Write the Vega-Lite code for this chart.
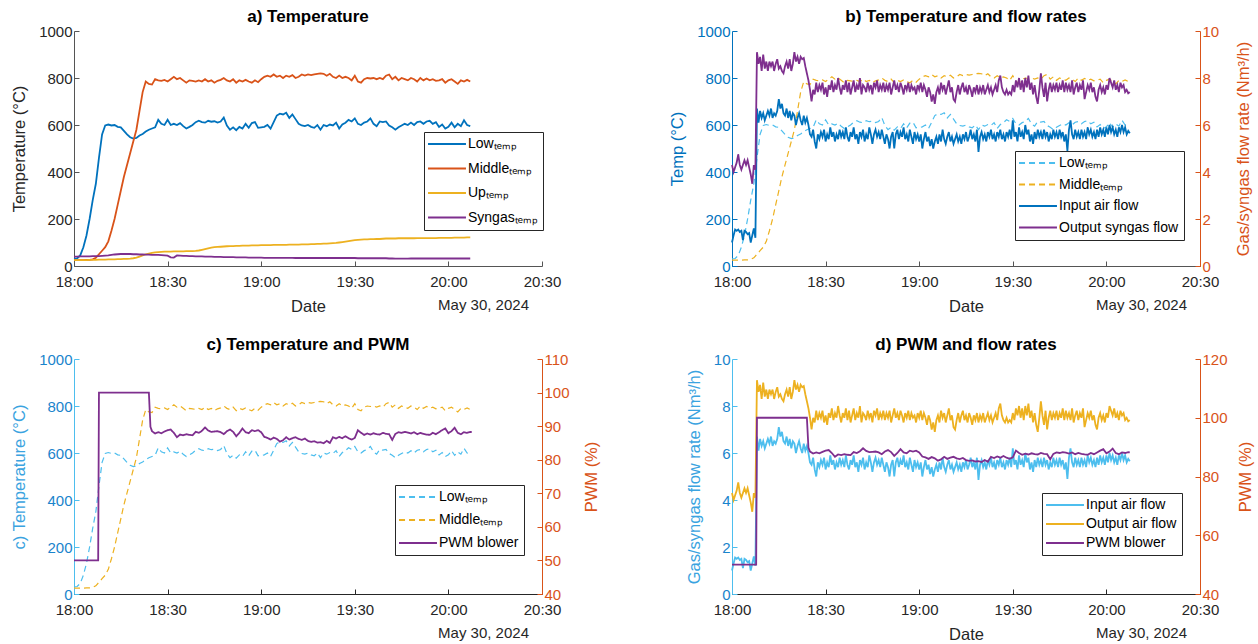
{
"$schema":"https://vega.github.io/schema/vega-lite/v6.json",
"background":"white",
"padding":{"left":11,"top":8,"right":5,"bottom":5},
"bounds":"flush",
"columns":2,
"spacing":{"row":93,"column":190},
"resolve":{"scale":{"color":"independent","strokeDash":"independent"}},
"config":{
 "font":"Liberation Sans",
 "view":{"stroke":null},
 "axis":{"labelFont":"Liberation Sans","titleFont":"Liberation Sans","labelFontSize":15,"titleFontSize":16.5,"titleFontWeight":"normal","labelColor":"#262626","titleColor":"#262626","domainColor":"#555555","tickColor":"#555555","tickSize":-5,"grid":false,"labelFlush":false,"labelOverlap":false},
 "axisX":{"labelPadding":13,"titlePadding":9},
 "axisY":{"labelPadding":7,"titlePadding":11},
 "title":{"font":"Liberation Sans","fontSize":17,"fontWeight":"bold","color":"#000000","offset":-2}
},
"datasets":{
"temps":[
{"t":"2024-05-30T18:00","low":30,"mid":25,"up":25,"syn":40},
{"t":"2024-05-30T18:01","low":32,"mid":25,"up":25,"syn":40},
{"t":"2024-05-30T18:02","low":45,"mid":25,"up":25,"syn":41},
{"t":"2024-05-30T18:03","low":80,"mid":25,"up":25,"syn":41},
{"t":"2024-05-30T18:04","low":130,"mid":26,"up":25,"syn":41},
{"t":"2024-05-30T18:05","low":200,"mid":26,"up":26,"syn":41},
{"t":"2024-05-30T18:06","low":280,"mid":28,"up":26,"syn":42},
{"t":"2024-05-30T18:07","low":350,"mid":35,"up":26,"syn":42},
{"t":"2024-05-30T18:08","low":460,"mid":50,"up":27,"syn":42},
{"t":"2024-05-30T18:09","low":560,"mid":65,"up":27,"syn":43},
{"t":"2024-05-30T18:10","low":598,"mid":80,"up":27,"syn":44},
{"t":"2024-05-30T18:11","low":602,"mid":105,"up":28,"syn":45},
{"t":"2024-05-30T18:12","low":598,"mid":150,"up":28,"syn":47},
{"t":"2024-05-30T18:13","low":600,"mid":200,"up":28,"syn":49},
{"t":"2024-05-30T18:14","low":592,"mid":260,"up":29,"syn":50},
{"t":"2024-05-30T18:15","low":590,"mid":320,"up":29,"syn":51},
{"t":"2024-05-30T18:16","low":575,"mid":380,"up":30,"syn":51},
{"t":"2024-05-30T18:17","low":560,"mid":430,"up":30,"syn":51},
{"t":"2024-05-30T18:18","low":548,"mid":480,"up":31,"syn":51},
{"t":"2024-05-30T18:19","low":542,"mid":530,"up":33,"syn":50},
{"t":"2024-05-30T18:20","low":545,"mid":580,"up":36,"syn":50},
{"t":"2024-05-30T18:21","low":555,"mid":660,"up":40,"syn":49},
{"t":"2024-05-30T18:22","low":562,"mid":740,"up":45,"syn":49},
{"t":"2024-05-30T18:23","low":572,"mid":785,"up":50,"syn":48},
{"t":"2024-05-30T18:24","low":580,"mid":775,"up":53,"syn":48},
{"t":"2024-05-30T18:25","low":585,"mid":772,"up":56,"syn":47},
{"t":"2024-05-30T18:26","low":590,"mid":795,"up":58,"syn":47},
{"t":"2024-05-30T18:27","low":622,"mid":790,"up":59,"syn":47},
{"t":"2024-05-30T18:28","low":605,"mid":788,"up":60,"syn":46},
{"t":"2024-05-30T18:29","low":600,"mid":792,"up":61,"syn":45},
{"t":"2024-05-30T18:30","low":622,"mid":785,"up":61,"syn":44},
{"t":"2024-05-30T18:31","low":600,"mid":795,"up":61,"syn":37},
{"t":"2024-05-30T18:32","low":605,"mid":805,"up":62,"syn":36},
{"t":"2024-05-30T18:33","low":600,"mid":795,"up":62,"syn":45},
{"t":"2024-05-30T18:34","low":608,"mid":800,"up":62,"syn":44},
{"t":"2024-05-30T18:35","low":595,"mid":790,"up":62,"syn":43},
{"t":"2024-05-30T18:36","low":585,"mid":780,"up":63,"syn":43},
{"t":"2024-05-30T18:37","low":592,"mid":790,"up":63,"syn":42},
{"t":"2024-05-30T18:38","low":600,"mid":788,"up":63,"syn":42},
{"t":"2024-05-30T18:39","low":612,"mid":785,"up":64,"syn":41},
{"t":"2024-05-30T18:40","low":618,"mid":790,"up":66,"syn":41},
{"t":"2024-05-30T18:41","low":612,"mid":785,"up":69,"syn":41},
{"t":"2024-05-30T18:42","low":610,"mid":795,"up":72,"syn":40},
{"t":"2024-05-30T18:43","low":618,"mid":785,"up":75,"syn":40},
{"t":"2024-05-30T18:44","low":614,"mid":790,"up":78,"syn":40},
{"t":"2024-05-30T18:45","low":616,"mid":780,"up":80,"syn":39},
{"t":"2024-05-30T18:46","low":610,"mid":788,"up":81,"syn":39},
{"t":"2024-05-30T18:47","low":615,"mid":792,"up":82,"syn":39},
{"t":"2024-05-30T18:48","low":632,"mid":800,"up":83,"syn":38},
{"t":"2024-05-30T18:49","low":598,"mid":790,"up":84,"syn":38},
{"t":"2024-05-30T18:50","low":580,"mid":785,"up":85,"syn":38},
{"t":"2024-05-30T18:51","low":590,"mid":795,"up":85,"syn":38},
{"t":"2024-05-30T18:52","low":578,"mid":780,"up":86,"syn":37},
{"t":"2024-05-30T18:53","low":592,"mid":790,"up":86,"syn":37},
{"t":"2024-05-30T18:54","low":585,"mid":785,"up":87,"syn":37},
{"t":"2024-05-30T18:55","low":605,"mid":792,"up":87,"syn":37},
{"t":"2024-05-30T18:56","low":588,"mid":785,"up":87,"syn":36},
{"t":"2024-05-30T18:57","low":608,"mid":780,"up":88,"syn":36},
{"t":"2024-05-30T18:58","low":612,"mid":790,"up":88,"syn":36},
{"t":"2024-05-30T18:59","low":588,"mid":782,"up":88,"syn":36},
{"t":"2024-05-30T19:00","low":590,"mid":795,"up":89,"syn":36},
{"t":"2024-05-30T19:01","low":592,"mid":805,"up":89,"syn":35},
{"t":"2024-05-30T19:02","low":600,"mid":810,"up":89,"syn":35},
{"t":"2024-05-30T19:03","low":585,"mid":805,"up":89,"syn":35},
{"t":"2024-05-30T19:04","low":612,"mid":815,"up":90,"syn":35},
{"t":"2024-05-30T19:05","low":640,"mid":805,"up":90,"syn":35},
{"t":"2024-05-30T19:06","low":648,"mid":810,"up":90,"syn":35},
{"t":"2024-05-30T19:07","low":645,"mid":800,"up":90,"syn":35},
{"t":"2024-05-30T19:08","low":652,"mid":810,"up":90,"syn":35},
{"t":"2024-05-30T19:09","low":630,"mid":805,"up":91,"syn":35},
{"t":"2024-05-30T19:10","low":645,"mid":812,"up":91,"syn":35},
{"t":"2024-05-30T19:11","low":625,"mid":800,"up":91,"syn":34},
{"t":"2024-05-30T19:12","low":605,"mid":805,"up":91,"syn":34},
{"t":"2024-05-30T19:13","low":598,"mid":815,"up":92,"syn":34},
{"t":"2024-05-30T19:14","low":595,"mid":810,"up":92,"syn":34},
{"t":"2024-05-30T19:15","low":600,"mid":815,"up":92,"syn":34},
{"t":"2024-05-30T19:16","low":592,"mid":812,"up":93,"syn":34},
{"t":"2024-05-30T19:17","low":588,"mid":815,"up":93,"syn":34},
{"t":"2024-05-30T19:18","low":600,"mid":818,"up":94,"syn":34},
{"t":"2024-05-30T19:19","low":580,"mid":820,"up":94,"syn":34},
{"t":"2024-05-30T19:20","low":600,"mid":818,"up":95,"syn":34},
{"t":"2024-05-30T19:21","low":595,"mid":810,"up":95,"syn":34},
{"t":"2024-05-30T19:22","low":602,"mid":818,"up":96,"syn":34},
{"t":"2024-05-30T19:23","low":598,"mid":805,"up":97,"syn":34},
{"t":"2024-05-30T19:24","low":610,"mid":800,"up":98,"syn":34},
{"t":"2024-05-30T19:25","low":585,"mid":810,"up":100,"syn":34},
{"t":"2024-05-30T19:26","low":602,"mid":800,"up":102,"syn":34},
{"t":"2024-05-30T19:27","low":610,"mid":805,"up":104,"syn":34},
{"t":"2024-05-30T19:28","low":622,"mid":800,"up":106,"syn":34},
{"t":"2024-05-30T19:29","low":615,"mid":790,"up":108,"syn":34},
{"t":"2024-05-30T19:30","low":628,"mid":810,"up":110,"syn":34},
{"t":"2024-05-30T19:31","low":605,"mid":785,"up":111,"syn":33},
{"t":"2024-05-30T19:32","low":600,"mid":780,"up":112,"syn":33},
{"t":"2024-05-30T19:33","low":610,"mid":795,"up":113,"syn":33},
{"t":"2024-05-30T19:34","low":615,"mid":800,"up":113,"syn":33},
{"t":"2024-05-30T19:35","low":628,"mid":798,"up":114,"syn":33},
{"t":"2024-05-30T19:36","low":605,"mid":800,"up":114,"syn":33},
{"t":"2024-05-30T19:37","low":595,"mid":795,"up":115,"syn":33},
{"t":"2024-05-30T19:38","low":615,"mid":800,"up":115,"syn":33},
{"t":"2024-05-30T19:39","low":612,"mid":795,"up":116,"syn":33},
{"t":"2024-05-30T19:40","low":615,"mid":810,"up":117,"syn":33},
{"t":"2024-05-30T19:41","low":598,"mid":815,"up":117,"syn":32},
{"t":"2024-05-30T19:42","low":590,"mid":795,"up":117,"syn":32},
{"t":"2024-05-30T19:43","low":580,"mid":805,"up":117,"syn":31},
{"t":"2024-05-30T19:44","low":590,"mid":790,"up":118,"syn":31},
{"t":"2024-05-30T19:45","low":598,"mid":800,"up":118,"syn":31},
{"t":"2024-05-30T19:46","low":605,"mid":795,"up":118,"syn":31},
{"t":"2024-05-30T19:47","low":600,"mid":790,"up":118,"syn":31},
{"t":"2024-05-30T19:48","low":610,"mid":800,"up":118,"syn":32},
{"t":"2024-05-30T19:49","low":600,"mid":795,"up":118,"syn":32},
{"t":"2024-05-30T19:50","low":612,"mid":785,"up":119,"syn":32},
{"t":"2024-05-30T19:51","low":615,"mid":800,"up":119,"syn":32},
{"t":"2024-05-30T19:52","low":605,"mid":790,"up":119,"syn":32},
{"t":"2024-05-30T19:53","low":615,"mid":798,"up":119,"syn":32},
{"t":"2024-05-30T19:54","low":618,"mid":790,"up":119,"syn":32},
{"t":"2024-05-30T19:55","low":605,"mid":795,"up":119,"syn":32},
{"t":"2024-05-30T19:56","low":612,"mid":788,"up":119,"syn":32},
{"t":"2024-05-30T19:57","low":592,"mid":790,"up":120,"syn":32},
{"t":"2024-05-30T19:58","low":602,"mid":795,"up":120,"syn":32},
{"t":"2024-05-30T19:59","low":585,"mid":780,"up":120,"syn":32},
{"t":"2024-05-30T20:00","low":592,"mid":790,"up":120,"syn":32},
{"t":"2024-05-30T20:01","low":610,"mid":795,"up":120,"syn":32},
{"t":"2024-05-30T20:02","low":590,"mid":785,"up":121,"syn":32},
{"t":"2024-05-30T20:03","low":605,"mid":775,"up":121,"syn":32},
{"t":"2024-05-30T20:04","low":595,"mid":790,"up":121,"syn":32},
{"t":"2024-05-30T20:05","low":620,"mid":785,"up":121,"syn":32},
{"t":"2024-05-30T20:06","low":600,"mid":792,"up":122,"syn":32},
{"t":"2024-05-30T20:07","low":595,"mid":785,"up":122,"syn":32}
],
"flows":[
{"t":"2024-05-30T18:00:00","inp":1.0,"out":4.3},{"t":"2024-05-30T18:00:30","inp":1.3,"out":4.0},{"t":"2024-05-30T18:01:00","inp":1.55,"out":4.2},{"t":"2024-05-30T18:01:30","inp":1.5,"out":4.4},
{"t":"2024-05-30T18:02:00","inp":1.55,"out":4.75},{"t":"2024-05-30T18:02:30","inp":1.45,"out":4.3},{"t":"2024-05-30T18:03:00","inp":1.5,"out":4.1},{"t":"2024-05-30T18:03:30","inp":1.1,"out":4.3},
{"t":"2024-05-30T18:04:00","inp":1.5,"out":4.5},{"t":"2024-05-30T18:04:30","inp":1.45,"out":4.3},{"t":"2024-05-30T18:05:00","inp":1.35,"out":4.5},{"t":"2024-05-30T18:05:30","inp":1.4,"out":4.2},
{"t":"2024-05-30T18:06:00","inp":1.0,"out":3.9},{"t":"2024-05-30T18:06:30","inp":1.3,"out":3.5},{"t":"2024-05-30T18:07:00","inp":1.6,"out":4.3},{"t":"2024-05-30T18:07:30","inp":1.2,"out":4.1},
{"t":"2024-05-30T18:08:00","inp":6.7,"out":9.1},{"t":"2024-05-30T18:08:30","inp":6.1,"out":8.6},{"t":"2024-05-30T18:09:00","inp":6.6,"out":8.9},{"t":"2024-05-30T18:09:30","inp":6.3,"out":8.3},
{"t":"2024-05-30T18:10:00","inp":6.5,"out":9.0},{"t":"2024-05-30T18:10:30","inp":6.2,"out":8.4},{"t":"2024-05-30T18:11:00","inp":6.4,"out":8.7},{"t":"2024-05-30T18:11:30","inp":6.6,"out":8.3},
{"t":"2024-05-30T18:12:00","inp":6.4,"out":8.7},{"t":"2024-05-30T18:12:30","inp":6.7,"out":8.5},{"t":"2024-05-30T18:13:00","inp":6.3,"out":8.7},{"t":"2024-05-30T18:13:30","inp":6.5,"out":8.3},
{"t":"2024-05-30T18:14:00","inp":6.4,"out":8.6},{"t":"2024-05-30T18:14:30","inp":6.6,"out":8.8},{"t":"2024-05-30T18:15:00","inp":7.1,"out":8.4},{"t":"2024-05-30T18:15:30","inp":6.7,"out":8.5},
{"t":"2024-05-30T18:16:00","inp":6.9,"out":8.3},{"t":"2024-05-30T18:16:30","inp":6.5,"out":8.2},{"t":"2024-05-30T18:17:00","inp":6.4,"out":8.5},{"t":"2024-05-30T18:17:30","inp":6.7,"out":8.7},
{"t":"2024-05-30T18:18:00","inp":6.3,"out":8.4},{"t":"2024-05-30T18:18:30","inp":6.6,"out":8.8},{"t":"2024-05-30T18:19:00","inp":6.2,"out":8.3},{"t":"2024-05-30T18:19:30","inp":6.5,"out":8.6},
{"t":"2024-05-30T18:20:00","inp":6.4,"out":9.1},{"t":"2024-05-30T18:20:30","inp":6.0,"out":8.7},{"t":"2024-05-30T18:21:00","inp":6.3,"out":8.9},{"t":"2024-05-30T18:21:30","inp":6.5,"out":8.6},
{"t":"2024-05-30T18:22:00","inp":6.2,"out":8.9},{"t":"2024-05-30T18:22:30","inp":6.0,"out":8.8},{"t":"2024-05-30T18:23:00","inp":6.4,"out":8.85},{"t":"2024-05-30T18:23:30","inp":6.1,"out":8.5},
{"t":"2024-05-30T18:24:00","inp":6.3,"out":8.2},{"t":"2024-05-30T18:24:30","inp":6.0,"out":7.9},{"t":"2024-05-30T18:25:00","inp":5.6,"out":7.5},{"t":"2024-05-30T18:25:30","inp":5.5,"out":7.0},
{"t":"2024-05-30T18:26:00","inp":5.8,"out":7.5},{"t":"2024-05-30T18:26:30","inp":5.3,"out":7.3},{"t":"2024-05-30T18:27:00","inp":5.0,"out":7.8},{"t":"2024-05-30T18:27:30","inp":5.6,"out":7.4},
{"t":"2024-05-30T18:28:00","inp":5.4,"out":7.7},{"t":"2024-05-30T18:28:30","inp":5.7,"out":7.5},{"t":"2024-05-30T18:29:00","inp":5.5,"out":7.8},{"t":"2024-05-30T18:29:30","inp":5.8,"out":7.3},
{"t":"2024-05-30T18:30:00","inp":5.3,"out":7.6},{"t":"2024-05-30T18:30:30","inp":5.6,"out":7.2},{"t":"2024-05-30T18:31:00","inp":5.4,"out":7.7},{"t":"2024-05-30T18:31:30","inp":5.9,"out":7.5},
{"t":"2024-05-30T18:32:00","inp":5.5,"out":7.9},{"t":"2024-05-30T18:32:30","inp":5.7,"out":7.4},{"t":"2024-05-30T18:33:00","inp":5.3,"out":7.7},{"t":"2024-05-30T18:33:30","inp":5.6,"out":7.5},
{"t":"2024-05-30T18:34:00","inp":5.4,"out":8.0},{"t":"2024-05-30T18:34:30","inp":5.8,"out":7.6},{"t":"2024-05-30T18:35:00","inp":5.5,"out":7.3},{"t":"2024-05-30T18:35:30","inp":5.7,"out":7.7},
{"t":"2024-05-30T18:36:00","inp":5.4,"out":7.5},{"t":"2024-05-30T18:36:30","inp":5.9,"out":7.9},{"t":"2024-05-30T18:37:00","inp":5.5,"out":7.4},{"t":"2024-05-30T18:37:30","inp":5.3,"out":7.8},
{"t":"2024-05-30T18:38:00","inp":5.7,"out":7.3},{"t":"2024-05-30T18:38:30","inp":5.5,"out":7.6},{"t":"2024-05-30T18:39:00","inp":5.9,"out":7.9},{"t":"2024-05-30T18:39:30","inp":5.4,"out":7.4},
{"t":"2024-05-30T18:40:00","inp":5.6,"out":7.7},{"t":"2024-05-30T18:40:30","inp":5.2,"out":7.5},{"t":"2024-05-30T18:41:00","inp":5.7,"out":8.0},{"t":"2024-05-30T18:41:30","inp":5.5,"out":7.3},
{"t":"2024-05-30T18:42:00","inp":5.8,"out":7.7},{"t":"2024-05-30T18:42:30","inp":5.3,"out":7.6},{"t":"2024-05-30T18:43:00","inp":5.6,"out":7.4},{"t":"2024-05-30T18:43:30","inp":5.4,"out":7.8},
{"t":"2024-05-30T18:44:00","inp":5.9,"out":7.5},{"t":"2024-05-30T18:44:30","inp":5.6,"out":7.7},{"t":"2024-05-30T18:45:00","inp":5.2,"out":7.3},{"t":"2024-05-30T18:45:30","inp":5.6,"out":7.8},
{"t":"2024-05-30T18:46:00","inp":5.8,"out":7.6},{"t":"2024-05-30T18:46:30","inp":5.5,"out":7.9},{"t":"2024-05-30T18:47:00","inp":5.7,"out":7.4},{"t":"2024-05-30T18:47:30","inp":5.4,"out":7.7},
{"t":"2024-05-30T18:48:00","inp":5.8,"out":7.5},{"t":"2024-05-30T18:48:30","inp":5.5,"out":7.8},{"t":"2024-05-30T18:49:00","inp":5.2,"out":7.4},{"t":"2024-05-30T18:49:30","inp":5.6,"out":7.7},
{"t":"2024-05-30T18:50:00","inp":5.4,"out":7.5},{"t":"2024-05-30T18:50:30","inp":5.0,"out":7.8},{"t":"2024-05-30T18:51:00","inp":5.5,"out":7.3},{"t":"2024-05-30T18:51:30","inp":5.7,"out":7.6},
{"t":"2024-05-30T18:52:00","inp":5.0,"out":7.9},{"t":"2024-05-30T18:52:30","inp":5.6,"out":7.5},{"t":"2024-05-30T18:53:00","inp":5.8,"out":7.7},{"t":"2024-05-30T18:53:30","inp":5.4,"out":7.4},
{"t":"2024-05-30T18:54:00","inp":5.7,"out":7.8},{"t":"2024-05-30T18:54:30","inp":5.5,"out":7.6},{"t":"2024-05-30T18:55:00","inp":5.9,"out":7.3},{"t":"2024-05-30T18:55:30","inp":5.4,"out":7.7},
{"t":"2024-05-30T18:56:00","inp":5.6,"out":7.5},{"t":"2024-05-30T18:56:30","inp":5.3,"out":7.8},{"t":"2024-05-30T18:57:00","inp":5.8,"out":7.4},{"t":"2024-05-30T18:57:30","inp":5.5,"out":7.7},
{"t":"2024-05-30T18:58:00","inp":5.2,"out":7.5},{"t":"2024-05-30T18:58:30","inp":5.7,"out":7.6},{"t":"2024-05-30T18:59:00","inp":5.4,"out":7.3},{"t":"2024-05-30T18:59:30","inp":5.6,"out":7.7},
{"t":"2024-05-30T19:00:00","inp":5.3,"out":7.5},{"t":"2024-05-30T19:00:30","inp":5.6,"out":7.8},{"t":"2024-05-30T19:01:00","inp":5.0,"out":7.4},{"t":"2024-05-30T19:01:30","inp":5.4,"out":7.7},
{"t":"2024-05-30T19:02:00","inp":5.7,"out":7.5},{"t":"2024-05-30T19:02:30","inp":5.3,"out":7.2},{"t":"2024-05-30T19:03:00","inp":5.5,"out":7.6},{"t":"2024-05-30T19:03:30","inp":5.1,"out":7.4},
{"t":"2024-05-30T19:04:00","inp":5.4,"out":7.0},{"t":"2024-05-30T19:04:30","inp":5.0,"out":7.3},{"t":"2024-05-30T19:05:00","inp":5.3,"out":6.9},{"t":"2024-05-30T19:05:30","inp":5.5,"out":7.4},
{"t":"2024-05-30T19:06:00","inp":5.2,"out":7.6},{"t":"2024-05-30T19:06:30","inp":5.6,"out":7.3},{"t":"2024-05-30T19:07:00","inp":5.3,"out":7.8},{"t":"2024-05-30T19:07:30","inp":5.8,"out":7.5},
{"t":"2024-05-30T19:08:00","inp":5.4,"out":7.7},{"t":"2024-05-30T19:08:30","inp":5.2,"out":7.3},{"t":"2024-05-30T19:09:00","inp":5.5,"out":7.6},{"t":"2024-05-30T19:09:30","inp":5.7,"out":7.9},
{"t":"2024-05-30T19:10:00","inp":5.3,"out":7.4},{"t":"2024-05-30T19:10:30","inp":5.5,"out":7.6},{"t":"2024-05-30T19:11:00","inp":5.2,"out":7.1},{"t":"2024-05-30T19:11:30","inp":5.4,"out":7.0},
{"t":"2024-05-30T19:12:00","inp":5.6,"out":7.4},{"t":"2024-05-30T19:12:30","inp":5.3,"out":7.7},{"t":"2024-05-30T19:13:00","inp":5.5,"out":7.3},{"t":"2024-05-30T19:13:30","inp":5.2,"out":7.6},
{"t":"2024-05-30T19:14:00","inp":5.6,"out":7.8},{"t":"2024-05-30T19:14:30","inp":5.4,"out":7.4},{"t":"2024-05-30T19:15:00","inp":5.7,"out":7.6},{"t":"2024-05-30T19:15:30","inp":5.3,"out":7.3},
{"t":"2024-05-30T19:16:00","inp":5.5,"out":7.7},{"t":"2024-05-30T19:16:30","inp":5.8,"out":7.5},{"t":"2024-05-30T19:17:00","inp":5.4,"out":7.2},{"t":"2024-05-30T19:17:30","inp":5.6,"out":7.6},
{"t":"2024-05-30T19:18:00","inp":5.3,"out":7.4},{"t":"2024-05-30T19:18:30","inp":5.8,"out":7.7},{"t":"2024-05-30T19:19:00","inp":4.85,"out":7.3},{"t":"2024-05-30T19:19:30","inp":5.5,"out":7.6},
{"t":"2024-05-30T19:20:00","inp":5.7,"out":7.4},{"t":"2024-05-30T19:20:30","inp":5.4,"out":7.7},{"t":"2024-05-30T19:21:00","inp":5.6,"out":7.3},{"t":"2024-05-30T19:21:30","inp":5.3,"out":7.5},
{"t":"2024-05-30T19:22:00","inp":5.7,"out":7.7},{"t":"2024-05-30T19:22:30","inp":5.5,"out":7.4},{"t":"2024-05-30T19:23:00","inp":5.8,"out":7.6},{"t":"2024-05-30T19:23:30","inp":5.4,"out":7.3},
{"t":"2024-05-30T19:24:00","inp":5.6,"out":7.5},{"t":"2024-05-30T19:24:30","inp":5.3,"out":7.7},{"t":"2024-05-30T19:25:00","inp":5.7,"out":7.4},{"t":"2024-05-30T19:25:30","inp":5.5,"out":7.9},
{"t":"2024-05-30T19:26:00","inp":5.8,"out":8.1},{"t":"2024-05-30T19:26:30","inp":5.4,"out":7.6},{"t":"2024-05-30T19:27:00","inp":5.6,"out":7.4},{"t":"2024-05-30T19:27:30","inp":5.3,"out":7.3},
{"t":"2024-05-30T19:28:00","inp":5.7,"out":7.5},{"t":"2024-05-30T19:28:30","inp":5.5,"out":7.3},{"t":"2024-05-30T19:29:00","inp":5.8,"out":7.4},{"t":"2024-05-30T19:29:30","inp":5.4,"out":7.3},
{"t":"2024-05-30T19:30:00","inp":6.2,"out":7.7},{"t":"2024-05-30T19:30:30","inp":5.5,"out":7.4},{"t":"2024-05-30T19:31:00","inp":5.7,"out":7.9},{"t":"2024-05-30T19:31:30","inp":5.3,"out":7.6},
{"t":"2024-05-30T19:32:00","inp":5.9,"out":8.0},{"t":"2024-05-30T19:32:30","inp":5.5,"out":7.5},{"t":"2024-05-30T19:33:00","inp":5.7,"out":7.9},{"t":"2024-05-30T19:33:30","inp":5.4,"out":7.4},
{"t":"2024-05-30T19:34:00","inp":6.0,"out":8.0},{"t":"2024-05-30T19:34:30","inp":5.6,"out":7.6},{"t":"2024-05-30T19:35:00","inp":5.8,"out":8.1},{"t":"2024-05-30T19:35:30","inp":5.3,"out":7.5},
{"t":"2024-05-30T19:36:00","inp":5.6,"out":7.8},{"t":"2024-05-30T19:36:30","inp":5.2,"out":7.3},{"t":"2024-05-30T19:37:00","inp":5.7,"out":7.7},{"t":"2024-05-30T19:37:30","inp":5.4,"out":7.2},
{"t":"2024-05-30T19:38:00","inp":5.8,"out":6.9},{"t":"2024-05-30T19:38:30","inp":5.5,"out":7.5},{"t":"2024-05-30T19:39:00","inp":5.7,"out":8.2},{"t":"2024-05-30T19:39:30","inp":5.4,"out":7.6},
{"t":"2024-05-30T19:40:00","inp":5.8,"out":7.2},{"t":"2024-05-30T19:40:30","inp":5.5,"out":7.8},{"t":"2024-05-30T19:41:00","inp":5.7,"out":7.0},{"t":"2024-05-30T19:41:30","inp":5.3,"out":7.5},
{"t":"2024-05-30T19:42:00","inp":5.6,"out":7.8},{"t":"2024-05-30T19:42:30","inp":5.4,"out":7.4},{"t":"2024-05-30T19:43:00","inp":5.8,"out":7.7},{"t":"2024-05-30T19:43:30","inp":5.5,"out":7.5},
{"t":"2024-05-30T19:44:00","inp":5.7,"out":7.8},{"t":"2024-05-30T19:44:30","inp":5.4,"out":7.4},{"t":"2024-05-30T19:45:00","inp":5.8,"out":7.7},{"t":"2024-05-30T19:45:30","inp":5.5,"out":7.5},
{"t":"2024-05-30T19:46:00","inp":5.7,"out":7.9},{"t":"2024-05-30T19:46:30","inp":5.3,"out":7.4},{"t":"2024-05-30T19:47:00","inp":5.6,"out":7.8},{"t":"2024-05-30T19:47:30","inp":4.9,"out":7.5},
{"t":"2024-05-30T19:48:00","inp":5.8,"out":7.7},{"t":"2024-05-30T19:48:30","inp":6.2,"out":7.4},{"t":"2024-05-30T19:49:00","inp":5.6,"out":7.9},{"t":"2024-05-30T19:49:30","inp":5.4,"out":7.3},
{"t":"2024-05-30T19:50:00","inp":5.8,"out":7.6},{"t":"2024-05-30T19:50:30","inp":5.5,"out":7.8},{"t":"2024-05-30T19:51:00","inp":5.7,"out":7.4},{"t":"2024-05-30T19:51:30","inp":5.4,"out":7.7},
{"t":"2024-05-30T19:52:00","inp":5.8,"out":7.5},{"t":"2024-05-30T19:52:30","inp":5.5,"out":7.9},{"t":"2024-05-30T19:53:00","inp":5.7,"out":7.1},{"t":"2024-05-30T19:53:30","inp":5.4,"out":7.4},
{"t":"2024-05-30T19:54:00","inp":5.9,"out":7.7},{"t":"2024-05-30T19:54:30","inp":5.6,"out":7.5},{"t":"2024-05-30T19:55:00","inp":5.8,"out":7.8},{"t":"2024-05-30T19:55:30","inp":5.5,"out":7.4},
{"t":"2024-05-30T19:56:00","inp":5.7,"out":7.6},{"t":"2024-05-30T19:56:30","inp":5.4,"out":7.2},{"t":"2024-05-30T19:57:00","inp":5.8,"out":7.0},{"t":"2024-05-30T19:57:30","inp":5.5,"out":7.5},
{"t":"2024-05-30T19:58:00","inp":5.9,"out":7.7},{"t":"2024-05-30T19:58:30","inp":5.6,"out":7.4},{"t":"2024-05-30T19:59:00","inp":5.8,"out":7.6},{"t":"2024-05-30T19:59:30","inp":5.5,"out":7.3},
{"t":"2024-05-30T20:00:00","inp":5.9,"out":7.7},{"t":"2024-05-30T20:00:30","inp":5.6,"out":7.5},{"t":"2024-05-30T20:01:00","inp":6.0,"out":8.0},{"t":"2024-05-30T20:01:30","inp":5.7,"out":7.8},
{"t":"2024-05-30T20:02:00","inp":5.9,"out":7.6},{"t":"2024-05-30T20:02:30","inp":5.6,"out":7.9},{"t":"2024-05-30T20:03:00","inp":5.8,"out":7.5},{"t":"2024-05-30T20:03:30","inp":5.5,"out":7.7},
{"t":"2024-05-30T20:04:00","inp":5.9,"out":7.4},{"t":"2024-05-30T20:04:30","inp":5.7,"out":7.8},{"t":"2024-05-30T20:05:00","inp":6.0,"out":7.6},{"t":"2024-05-30T20:05:30","inp":5.7,"out":7.7},
{"t":"2024-05-30T20:06:00","inp":5.9,"out":7.4},{"t":"2024-05-30T20:06:30","inp":5.6,"out":7.5},{"t":"2024-05-30T20:07:00","inp":5.75,"out":7.35},{"t":"2024-05-30T20:07:30","inp":5.65,"out":7.4}
],
"pwm":[
{"t":"2024-05-30T18:00:00","pwm":50},{"t":"2024-05-30T18:07:45","pwm":50},{"t":"2024-05-30T18:08:00","pwm":100},{"t":"2024-05-30T18:24:00","pwm":100},{"t":"2024-05-30T18:24:30","pwm":89.8},
{"t":"2024-05-30T18:25:00","pwm":88.5},{"t":"2024-05-30T18:26:00","pwm":87.8},{"t":"2024-05-30T18:27:00","pwm":88.2},{"t":"2024-05-30T18:28:00","pwm":87.9},{"t":"2024-05-30T18:29:00","pwm":88.4},
{"t":"2024-05-30T18:30:00","pwm":88.8},{"t":"2024-05-30T18:31:00","pwm":89.0},{"t":"2024-05-30T18:32:00","pwm":88.0},{"t":"2024-05-30T18:33:00","pwm":86.7},{"t":"2024-05-30T18:34:00","pwm":87.5},
{"t":"2024-05-30T18:35:00","pwm":87.3},{"t":"2024-05-30T18:36:00","pwm":87.6},{"t":"2024-05-30T18:37:00","pwm":87.4},{"t":"2024-05-30T18:38:00","pwm":87.3},{"t":"2024-05-30T18:39:00","pwm":88.3},
{"t":"2024-05-30T18:40:00","pwm":88.0},{"t":"2024-05-30T18:41:00","pwm":88.6},{"t":"2024-05-30T18:42:00","pwm":89.6},{"t":"2024-05-30T18:43:00","pwm":88.7},{"t":"2024-05-30T18:44:00","pwm":88.3},
{"t":"2024-05-30T18:45:00","pwm":88.4},{"t":"2024-05-30T18:46:00","pwm":88.5},{"t":"2024-05-30T18:47:00","pwm":88.2},{"t":"2024-05-30T18:48:00","pwm":87.6},{"t":"2024-05-30T18:49:00","pwm":88.5},
{"t":"2024-05-30T18:50:00","pwm":89.0},{"t":"2024-05-30T18:51:00","pwm":88.3},{"t":"2024-05-30T18:52:00","pwm":87.0},{"t":"2024-05-30T18:53:00","pwm":88.0},{"t":"2024-05-30T18:54:00","pwm":89.3},
{"t":"2024-05-30T18:55:00","pwm":88.2},{"t":"2024-05-30T18:56:00","pwm":87.9},{"t":"2024-05-30T18:57:00","pwm":88.8},{"t":"2024-05-30T18:58:00","pwm":88.5},{"t":"2024-05-30T18:59:00","pwm":88.8},
{"t":"2024-05-30T19:00:00","pwm":88.2},{"t":"2024-05-30T19:01:00","pwm":86.8},{"t":"2024-05-30T19:02:00","pwm":86.5},{"t":"2024-05-30T19:03:00","pwm":86.0},{"t":"2024-05-30T19:04:00","pwm":86.6},
{"t":"2024-05-30T19:05:00","pwm":86.2},{"t":"2024-05-30T19:06:00","pwm":85.4},{"t":"2024-05-30T19:07:00","pwm":85.8},{"t":"2024-05-30T19:08:00","pwm":86.7},{"t":"2024-05-30T19:09:00","pwm":86.0},
{"t":"2024-05-30T19:10:00","pwm":86.4},{"t":"2024-05-30T19:11:00","pwm":86.7},{"t":"2024-05-30T19:12:00","pwm":86.2},{"t":"2024-05-30T19:13:00","pwm":85.9},{"t":"2024-05-30T19:14:00","pwm":86.3},
{"t":"2024-05-30T19:15:00","pwm":85.6},{"t":"2024-05-30T19:16:00","pwm":85.3},{"t":"2024-05-30T19:17:00","pwm":85.5},{"t":"2024-05-30T19:18:00","pwm":85.1},{"t":"2024-05-30T19:19:00","pwm":85.2},
{"t":"2024-05-30T19:20:00","pwm":84.9},{"t":"2024-05-30T19:21:00","pwm":85.6},{"t":"2024-05-30T19:22:00","pwm":85.0},{"t":"2024-05-30T19:23:00","pwm":86.7},{"t":"2024-05-30T19:24:00","pwm":86.3},
{"t":"2024-05-30T19:25:00","pwm":86.8},{"t":"2024-05-30T19:26:00","pwm":86.4},{"t":"2024-05-30T19:27:00","pwm":87.0},{"t":"2024-05-30T19:28:00","pwm":86.4},{"t":"2024-05-30T19:29:00","pwm":86.0},
{"t":"2024-05-30T19:30:00","pwm":86.5},{"t":"2024-05-30T19:31:00","pwm":88.8},{"t":"2024-05-30T19:32:00","pwm":88.0},{"t":"2024-05-30T19:33:00","pwm":87.4},{"t":"2024-05-30T19:34:00","pwm":87.8},
{"t":"2024-05-30T19:35:00","pwm":87.5},{"t":"2024-05-30T19:36:00","pwm":87.9},{"t":"2024-05-30T19:37:00","pwm":87.6},{"t":"2024-05-30T19:38:00","pwm":87.5},{"t":"2024-05-30T19:39:00","pwm":88.0},
{"t":"2024-05-30T19:40:00","pwm":87.7},{"t":"2024-05-30T19:41:00","pwm":87.6},{"t":"2024-05-30T19:42:00","pwm":85.9},{"t":"2024-05-30T19:43:00","pwm":87.7},{"t":"2024-05-30T19:44:00","pwm":88.2},
{"t":"2024-05-30T19:45:00","pwm":88.0},{"t":"2024-05-30T19:46:00","pwm":88.3},{"t":"2024-05-30T19:47:00","pwm":88.1},{"t":"2024-05-30T19:48:00","pwm":87.8},{"t":"2024-05-30T19:49:00","pwm":88.2},
{"t":"2024-05-30T19:50:00","pwm":87.6},{"t":"2024-05-30T19:51:00","pwm":88.0},{"t":"2024-05-30T19:52:00","pwm":87.7},{"t":"2024-05-30T19:53:00","pwm":87.5},{"t":"2024-05-30T19:54:00","pwm":87.4},
{"t":"2024-05-30T19:55:00","pwm":88.0},{"t":"2024-05-30T19:56:00","pwm":87.6},{"t":"2024-05-30T19:57:00","pwm":88.2},{"t":"2024-05-30T19:58:00","pwm":88.8},{"t":"2024-05-30T19:59:00","pwm":89.3},
{"t":"2024-05-30T20:00:00","pwm":87.9},{"t":"2024-05-30T20:01:00","pwm":88.5},{"t":"2024-05-30T20:02:00","pwm":89.5},{"t":"2024-05-30T20:03:00","pwm":88.0},{"t":"2024-05-30T20:04:00","pwm":87.6},
{"t":"2024-05-30T20:05:00","pwm":88.2},{"t":"2024-05-30T20:06:00","pwm":88.0},{"t":"2024-05-30T20:07:00","pwm":88.3},{"t":"2024-05-30T20:07:30","pwm":88.2}
],
"datelabel":[{"t":"2024-05-30T20:30","label":"May 30, 2024"}]
},
"concat":[
{
 "title":"a) Temperature",
 "width":468,"height":235,
 "layer":[
  {
   "data":{"name":"temps"},
   "transform":[{"fold":["low","mid","up","syn"],"as":["s","v"]}],
   "mark":{"type":"line","strokeWidth":1.8},
   "encoding":{
    "x":{"field":"t","type":"temporal","scale":{"domain":[{"year":2024,"month":5,"date":30,"hours":18,"minutes":0},{"year":2024,"month":5,"date":30,"hours":20,"minutes":30}],"nice":false},"axis":{"title":"Date","format":"%H:%M","values":[{"year":2024,"month":5,"date":30,"hours":18,"minutes":0},{"year":2024,"month":5,"date":30,"hours":18,"minutes":30},{"year":2024,"month":5,"date":30,"hours":19,"minutes":0},{"year":2024,"month":5,"date":30,"hours":19,"minutes":30},{"year":2024,"month":5,"date":30,"hours":20,"minutes":0},{"year":2024,"month":5,"date":30,"hours":20,"minutes":30}]}},
    "y":{"field":"v","type":"quantitative","scale":{"domain":[0,1000],"nice":false},"axis":{"title":"Temperature (°C)","format":"d","values":[0,200,400,600,800,1000]}},
    "color":{"field":"s","type":"nominal","scale":{"domain":["low","mid","up","syn"],"range":["#0072BD","#D95319","#EDB120","#7E2F8E"]},
     "legend":{"title":null,"orient":"none","legendX":350,"legendY":101,"strokeColor":"#262626","fillColor":"white","padding":5,"symbolType":"M-4,0L4,0","symbolSize":90,"symbolStrokeWidth":2,"symbolOffset":11,"labelOffset":14,"labelFontSize":14,"labelColor":"#000000","labelFont":"Liberation Sans","rowPadding":10.5,
      "labelExpr":"datum.label=='low'?'Lowₜₑₘₚ':datum.label=='mid'?'Middleₜₑₘₚ':datum.label=='up'?'Upₜₑₘₚ':'Syngasₜₑₘₚ'"}}
   }
  },
  {
   "data":{"name":"datelabel"},
   "mark":{"type":"text","align":"right","baseline":"alphabetic","dx":-13,"dy":44,"fontSize":15,"font":"Liberation Sans","color":"#262626"},
   "encoding":{"x":{"field":"t","type":"temporal"},"y":{"datum":0,"type":"quantitative"},"text":{"field":"label"}}
  }
 ]
},
{
 "title":"b) Temperature and flow rates",
 "width":468,"height":235,
 "resolve":{"scale":{"y":"independent"}},
 "layer":[
  {"layer":[
   {
    "data":{"name":"temps"},
    "transform":[{"fold":["low","mid"],"as":["s","v"]}],
    "mark":{"type":"line","strokeWidth":1.2},
    "encoding":{
     "x":{"field":"t","type":"temporal","scale":{"domain":[{"year":2024,"month":5,"date":30,"hours":18,"minutes":0},{"year":2024,"month":5,"date":30,"hours":20,"minutes":30}],"nice":false},"axis":{"title":"Date","format":"%H:%M","values":[{"year":2024,"month":5,"date":30,"hours":18,"minutes":0},{"year":2024,"month":5,"date":30,"hours":18,"minutes":30},{"year":2024,"month":5,"date":30,"hours":19,"minutes":0},{"year":2024,"month":5,"date":30,"hours":19,"minutes":30},{"year":2024,"month":5,"date":30,"hours":20,"minutes":0},{"year":2024,"month":5,"date":30,"hours":20,"minutes":30}]}},
     "y":{"field":"v","type":"quantitative","scale":{"domain":[0,1000],"nice":false},"axis":{"title":"Temp (°C)","format":"d","values":[0,200,400,600,800,1000],"domainColor":"#0072BD","tickColor":"#0072BD","labelColor":"#0072BD","titleColor":"#0072BD"}},
     "color":{"field":"s","type":"nominal","scale":{"domain":["low","mid","inp","out"],"range":["#4DBEEE","#EDB120","#0072BD","#7E2F8E"]},
      "legend":{"title":null,"orient":"none","legendX":283,"legendY":120,"strokeColor":"#262626","fillColor":"white","padding":5,"symbolType":"M-4,0L4,0","symbolSize":90,"symbolStrokeWidth":2,"symbolOffset":11,"labelOffset":14,"labelFontSize":14,"labelColor":"#000000","labelFont":"Liberation Sans","rowPadding":7.5,
       "labelExpr":"datum.label=='low'?'Lowₜₑₘₚ':datum.label=='mid'?'Middleₜₑₘₚ':datum.label=='inp'?'Input air flow':'Output syngas flow'"}},
     "strokeDash":{"field":"s","type":"nominal","scale":{"domain":["low","mid","inp","out"],"range":[[6,4],[6,4],[1,0],[1,0]]},
      "legend":{"title":null,"orient":"none","legendX":283,"legendY":120,"strokeColor":"#262626","fillColor":"white","padding":5,"symbolType":"M-4,0L4,0","symbolSize":90,"symbolStrokeWidth":2,"symbolOffset":11,"labelOffset":14,"labelFontSize":14,"labelColor":"#000000","labelFont":"Liberation Sans","rowPadding":7.5,
       "labelExpr":"datum.label=='low'?'Lowₜₑₘₚ':datum.label=='mid'?'Middleₜₑₘₚ':datum.label=='inp'?'Input air flow':'Output syngas flow'"}}
    }
   },
   {
    "data":{"name":"datelabel"},
    "mark":{"type":"text","align":"right","baseline":"alphabetic","dx":-13,"dy":44,"fontSize":15,"font":"Liberation Sans","color":"#262626"},
    "encoding":{"x":{"field":"t","type":"temporal"},"y":{"datum":0,"type":"quantitative"},"text":{"field":"label"}}
   }
  ]},
  {
   "data":{"name":"flows"},
   "transform":[{"fold":["inp","out"],"as":["s","v"]}],
   "mark":{"type":"line","strokeWidth":1.8},
   "encoding":{
    "x":{"field":"t","type":"temporal"},
    "y":{"field":"v","type":"quantitative","scale":{"domain":[0,10],"nice":false},"axis":{"orient":"right","title":"Gas/syngas flow rate (Nm³/h)","format":"d","values":[0,2,4,6,8,10],"titleAngle":270,"titleBaseline":"top","titlePadding":17,"domainColor":"#D95319","tickColor":"#D95319","labelColor":"#D95319","titleColor":"#D95319"}},
    "color":{"field":"s","type":"nominal","scale":{"domain":["low","mid","inp","out"],"range":["#4DBEEE","#EDB120","#0072BD","#7E2F8E"]},
     "legend":{"title":null,"orient":"none","legendX":283,"legendY":120,"strokeColor":"#262626","fillColor":"white","padding":5,"symbolType":"M-4,0L4,0","symbolSize":90,"symbolStrokeWidth":2,"symbolOffset":11,"labelOffset":14,"labelFontSize":14,"labelColor":"#000000","labelFont":"Liberation Sans","rowPadding":7.5,
      "labelExpr":"datum.label=='low'?'Lowₜₑₘₚ':datum.label=='mid'?'Middleₜₑₘₚ':datum.label=='inp'?'Input air flow':'Output syngas flow'"}},
    "strokeDash":{"field":"s","type":"nominal","scale":{"domain":["low","mid","inp","out"],"range":[[6,4],[6,4],[1,0],[1,0]]},
     "legend":{"title":null,"orient":"none","legendX":283,"legendY":120,"strokeColor":"#262626","fillColor":"white","padding":5,"symbolType":"M-4,0L4,0","symbolSize":90,"symbolStrokeWidth":2,"symbolOffset":11,"labelOffset":14,"labelFontSize":14,"labelColor":"#000000","labelFont":"Liberation Sans","rowPadding":7.5,
      "labelExpr":"datum.label=='low'?'Lowₜₑₘₚ':datum.label=='mid'?'Middleₜₑₘₚ':datum.label=='inp'?'Input air flow':'Output syngas flow'"}}
   }
  }
 ]
},
{
 "title":"c) Temperature and PWM",
 "width":468,"height":235,
 "resolve":{"scale":{"y":"independent"}},
 "layer":[
  {"layer":[
   {
    "data":{"name":"temps"},
    "transform":[{"fold":["low","mid"],"as":["s","v"]}],
    "mark":{"type":"line","strokeWidth":1.2},
    "encoding":{
     "x":{"field":"t","type":"temporal","scale":{"domain":[{"year":2024,"month":5,"date":30,"hours":18,"minutes":0},{"year":2024,"month":5,"date":30,"hours":20,"minutes":30}],"nice":false},"axis":{"title":null,"format":"%H:%M","domainColor":"#262626","tickColor":"#262626","values":[{"year":2024,"month":5,"date":30,"hours":18,"minutes":0},{"year":2024,"month":5,"date":30,"hours":18,"minutes":30},{"year":2024,"month":5,"date":30,"hours":19,"minutes":0},{"year":2024,"month":5,"date":30,"hours":19,"minutes":30},{"year":2024,"month":5,"date":30,"hours":20,"minutes":0},{"year":2024,"month":5,"date":30,"hours":20,"minutes":30}]}},
     "y":{"field":"v","type":"quantitative","scale":{"domain":[0,1000],"nice":false},"axis":{"title":"c) Temperature (°C)","format":"d","values":[0,200,400,600,800,1000],"domainColor":"#4DBEEE","tickColor":"#4DBEEE","labelColor":"#1A84CC","titleColor":"#3AA3E0"}},
     "color":{"field":"s","type":"nominal","scale":{"domain":["low","mid","pwm"],"range":["#4DBEEE","#EDB120","#7E2F8E"]},
      "legend":{"title":null,"orient":"none","legendX":321,"legendY":126,"strokeColor":"#262626","fillColor":"white","padding":5,"symbolType":"M-4,0L4,0","symbolSize":90,"symbolStrokeWidth":2,"symbolOffset":11,"labelOffset":14,"labelFontSize":14,"labelColor":"#000000","labelFont":"Liberation Sans","rowPadding":9,
       "labelExpr":"datum.label=='low'?'Lowₜₑₘₚ':datum.label=='mid'?'Middleₜₑₘₚ':'PWM blower'"}},
     "strokeDash":{"field":"s","type":"nominal","scale":{"domain":["low","mid","pwm"],"range":[[6,4],[6,4],[1,0]]},
      "legend":{"title":null,"orient":"none","legendX":321,"legendY":126,"strokeColor":"#262626","fillColor":"white","padding":5,"symbolType":"M-4,0L4,0","symbolSize":90,"symbolStrokeWidth":2,"symbolOffset":11,"labelOffset":14,"labelFontSize":14,"labelColor":"#000000","labelFont":"Liberation Sans","rowPadding":9,
       "labelExpr":"datum.label=='low'?'Lowₜₑₘₚ':datum.label=='mid'?'Middleₜₑₘₚ':'PWM blower'"}}
    }
   },
   {
    "data":{"name":"datelabel"},
    "mark":{"type":"text","align":"right","baseline":"alphabetic","dx":-13,"dy":44,"fontSize":15,"font":"Liberation Sans","color":"#262626"},
    "encoding":{"x":{"field":"t","type":"temporal"},"y":{"datum":0,"type":"quantitative"},"text":{"field":"label"}}
   }
  ]},
  {
   "data":{"name":"pwm"},
   "transform":[{"fold":["pwm"],"as":["s","v"]}],
   "mark":{"type":"line","strokeWidth":1.8},
   "encoding":{
    "x":{"field":"t","type":"temporal"},
    "y":{"field":"v","type":"quantitative","scale":{"domain":[40,110],"nice":false},"axis":{"orient":"right","title":"PWM (%)","format":"d","values":[40,50,60,70,80,90,100,110],"titleAngle":270,"titleBaseline":"top","titlePadding":14,"domainColor":"#D95319","tickColor":"#D95319","labelColor":"#D95319","titleColor":"#D95319"}},
    "color":{"field":"s","type":"nominal","scale":{"domain":["low","mid","pwm"],"range":["#4DBEEE","#EDB120","#7E2F8E"]},
     "legend":{"title":null,"orient":"none","legendX":321,"legendY":126,"strokeColor":"#262626","fillColor":"white","padding":5,"symbolType":"M-4,0L4,0","symbolSize":90,"symbolStrokeWidth":2,"symbolOffset":11,"labelOffset":14,"labelFontSize":14,"labelColor":"#000000","labelFont":"Liberation Sans","rowPadding":9,
      "labelExpr":"datum.label=='low'?'Lowₜₑₘₚ':datum.label=='mid'?'Middleₜₑₘₚ':'PWM blower'"}},
    "strokeDash":{"field":"s","type":"nominal","scale":{"domain":["low","mid","pwm"],"range":[[6,4],[6,4],[1,0]]},
     "legend":{"title":null,"orient":"none","legendX":321,"legendY":126,"strokeColor":"#262626","fillColor":"white","padding":5,"symbolType":"M-4,0L4,0","symbolSize":90,"symbolStrokeWidth":2,"symbolOffset":11,"labelOffset":14,"labelFontSize":14,"labelColor":"#000000","labelFont":"Liberation Sans","rowPadding":9,
      "labelExpr":"datum.label=='low'?'Lowₜₑₘₚ':datum.label=='mid'?'Middleₜₑₘₚ':'PWM blower'"}}
   }
  }
 ]
},
{
 "title":"d) PWM and flow rates",
 "width":468,"height":235,
 "resolve":{"scale":{"y":"independent"}},
 "layer":[
  {"layer":[
   {
    "data":{"name":"flows"},
    "transform":[{"fold":["inp","out"],"as":["s","v"]}],
    "mark":{"type":"line","strokeWidth":1.8},
    "encoding":{
     "x":{"field":"t","type":"temporal","scale":{"domain":[{"year":2024,"month":5,"date":30,"hours":18,"minutes":0},{"year":2024,"month":5,"date":30,"hours":20,"minutes":30}],"nice":false},"axis":{"title":"Date","format":"%H:%M","domainColor":"#262626","tickColor":"#262626","values":[{"year":2024,"month":5,"date":30,"hours":18,"minutes":0},{"year":2024,"month":5,"date":30,"hours":18,"minutes":30},{"year":2024,"month":5,"date":30,"hours":19,"minutes":0},{"year":2024,"month":5,"date":30,"hours":19,"minutes":30},{"year":2024,"month":5,"date":30,"hours":20,"minutes":0},{"year":2024,"month":5,"date":30,"hours":20,"minutes":30}]}},
     "y":{"field":"v","type":"quantitative","scale":{"domain":[0,10],"nice":false},"axis":{"title":"Gas/syngas flow rate (Nm³/h)","format":"d","values":[0,2,4,6,8,10],"domainColor":"#4DBEEE","tickColor":"#4DBEEE","labelColor":"#1A84CC","titleColor":"#3AA3E0"}},
     "color":{"field":"s","type":"nominal","scale":{"domain":["inp","out","pwm"],"range":["#4DBEEE","#EDB120","#7E2F8E"]},
      "legend":{"title":null,"orient":"none","legendX":310,"legendY":134,"strokeColor":"#262626","fillColor":"white","padding":5,"symbolType":"M-4,0L4,0","symbolSize":90,"symbolStrokeWidth":2,"symbolOffset":11,"labelOffset":14,"labelFontSize":14,"labelColor":"#000000","labelFont":"Liberation Sans","rowPadding":5,
       "labelExpr":"datum.label=='inp'?'Input air flow':datum.label=='out'?'Output air flow':'PWM blower'"}}
    }
   },
   {
    "data":{"name":"datelabel"},
    "mark":{"type":"text","align":"right","baseline":"alphabetic","dx":-13,"dy":44,"fontSize":15,"font":"Liberation Sans","color":"#262626"},
    "encoding":{"x":{"field":"t","type":"temporal"},"y":{"datum":0,"type":"quantitative"},"text":{"field":"label"}}
   }
  ]},
  {
   "data":{"name":"pwm"},
   "transform":[{"fold":["pwm"],"as":["s","v"]}],
   "mark":{"type":"line","strokeWidth":1.8},
   "encoding":{
    "x":{"field":"t","type":"temporal"},
    "y":{"field":"v","type":"quantitative","scale":{"domain":[40,120],"nice":false},"axis":{"orient":"right","title":"PWM (%)","format":"d","values":[40,60,80,100,120],"titleAngle":270,"titleBaseline":"top","titlePadding":10,"domainColor":"#D95319","tickColor":"#D95319","labelColor":"#D95319","titleColor":"#D95319"}},
    "color":{"field":"s","type":"nominal","scale":{"domain":["inp","out","pwm"],"range":["#4DBEEE","#EDB120","#7E2F8E"]},
     "legend":{"title":null,"orient":"none","legendX":310,"legendY":134,"strokeColor":"#262626","fillColor":"white","padding":5,"symbolType":"M-4,0L4,0","symbolSize":90,"symbolStrokeWidth":2,"symbolOffset":11,"labelOffset":14,"labelFontSize":14,"labelColor":"#000000","labelFont":"Liberation Sans","rowPadding":5,
      "labelExpr":"datum.label=='inp'?'Input air flow':datum.label=='out'?'Output air flow':'PWM blower'"}}
   }
  }
 ]
}
]
}
